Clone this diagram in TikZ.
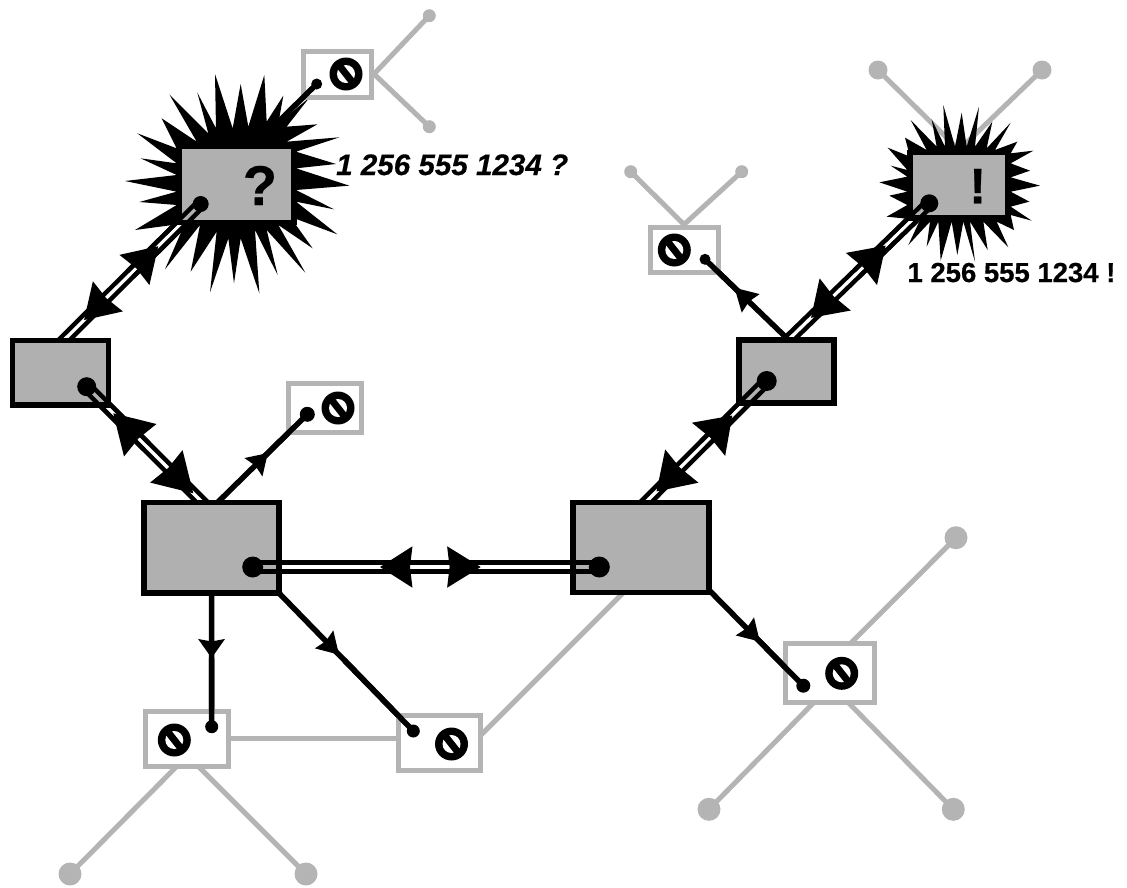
\documentclass[tikz,border=0pt]{standalone}
\usepackage{fontspec}
\setmainfont{Liberation Sans}
\newfontfamily\heavy[FakeBold=0.5]{Liberation Sans Bold}
\newfontfamily\heavyit[FakeBold=0.4]{Liberation Sans Bold Italic}
\usetikzlibrary{calc,decorations.markings}
\definecolor{soft}{HTML}{B4B4B4}
\definecolor{boxfill}{HTML}{B0B0B0}
\pgfdeclarelayer{under}\pgfdeclarelayer{burst}\pgfdeclarelayer{gap}\pgfdeclarelayer{top}
\pgfsetlayers{under,burst,gap,main,top}
\tikzset{
  hub/.style={draw=black,fill=boxfill,line width=5.8pt,rectangle,inner sep=0pt,minimum width=#1},
  client/.style={draw=soft,fill=white,line width=5pt,rectangle,inner sep=0pt,minimum width=#1},
  softline/.style={draw=soft,line width=5pt},
  softdot/.style={circle,fill=soft,inner sep=0pt,minimum size=#1},
  blackdot/.style={circle,fill=black,inner sep=0pt,minimum size=#1},
  wire/.style={draw=black,line width=5.5pt},
  nosign/.style={circle,fill=black,inner sep=0pt,minimum size=33pt},
}
\newcommand{\nosym}[2]{%
  \node[nosign] (#1) at (#2) {};
  \fill[white] (#1) circle (9);
  \draw[black,line width=7pt] ($(#1)+(-7.5,-9.5)$) -- ($(#1)+(7.5,9.5)$);
}
% arrowhead: path from, path to, distance of the tip from the start, length, width
\newcommand{\headon}[5]{%
  \path[decorate,decoration={markings,mark=at position #3pt with {%
    \fill[black] (0,0) -- (-1.12*#4,0.56*#5) -- (-1.12*#4+2.5,0) -- (-1.12*#4,-0.56*#5) -- cycle;}}]
    (#1.center) -- (#2.center);
}
% single line: inner end under the box, dot
\newcommand{\snl}[2]{%
  \begin{pgfonlayer}{gap}
    \draw[wire] (#1) -- (#2.center);
  \end{pgfonlayer}
  \begin{pgfonlayer}{top}
    \draw[wire] ($(#1)!0.5!(#2.center)$) -- (#2.center);
  \end{pgfonlayer}
}
% double line: dot, far end, half distance, line width
\newcommand{\dbl}[4]{%
  \begin{pgfonlayer}{gap}
    \draw[white,line width=2*#3 pt] (#1.center) -- (#2.center);
    \draw[wire,line width=#4pt] ($(#1.center)!#3pt!90:(#2.center)$) -- ($(#2.center)!#3pt!-90:(#1.center)$);
    \draw[wire,line width=#4pt] ($(#1.center)!#3pt!-90:(#2.center)$) -- ($(#2.center)!#3pt!90:(#1.center)$);
  \end{pgfonlayer}
  \begin{pgfonlayer}{top}
    \coordinate (mm) at ($(#1.center)!0.5!(#2.center)$);
    \draw[wire,line width=#4pt] ($(#1.center)!#3pt!90:(#2.center)$) -- ($(mm)!#3pt!-90:(#1.center)$);
    \draw[wire,line width=#4pt] ($(#1.center)!#3pt!-90:(#2.center)$) -- ($(mm)!#3pt!90:(#1.center)$);
  \end{pgfonlayer}
}
\begin{document}
\begin{tikzpicture}[x=1pt,y=-1pt]
\useasboundingbox (0,0) rectangle (1127,887);
% hubs
\node[hub=115pt,minimum height=76pt] (burstL) at (236.5,184.5) {};
\node[hub=98pt,minimum height=65.5pt] (burstR) at (959,185.2) {};
\node[hub=96pt,minimum height=64.5pt] (boxA) at (60.5,372.7) {};
\node[hub=135pt,minimum height=90.5pt] (mainL) at (211.5,547.7) {};
\node[hub=136pt,minimum height=90pt] (mainR) at (641,547.5) {};
\node[hub=95pt,minimum height=63.7pt] (boxB) at (786.5,371.5) {};
% clients
\node[client=68pt,minimum height=46pt] (c1) at (337.5,74) {};
\node[client=72.5pt,minimum height=48.5pt] (c2) at (324.8,407.8) {};
\node[client=68pt,minimum height=45pt] (c3) at (684,249.5) {};
\node[client=83pt,minimum height=55pt] (c4) at (186.5,738.5) {};
\node[client=82pt,minimum height=55pt] (c5) at (439,742.5) {};
\node[client=88.7pt,minimum height=59.3pt] (c6) at (830.3,673.3) {};
% signs
\nosym{s1}{346,74}
\nosym{s2}{338,408}
\nosym{s3}{674.3,250}
\nosym{s4}{174.3,740}
\nosym{s5}{451.5,744}
\nosym{s6}{841.7,673.3}
% free ends of the soft lines
\node[softdot=13pt] (a1) at (429.3,15.7) {};
\node[softdot=13pt] (a2) at (429.3,126.7) {};
\node[softdot=19pt] (a3) at (878,70) {};
\node[softdot=19pt] (a4) at (1042,70) {};
\node[softdot=13pt] (a5) at (630.7,171.7) {};
\node[softdot=13pt] (a6) at (741.7,171.7) {};
\node[softdot=23pt] (a7) at (70,874) {};
\node[softdot=23pt] (a8) at (306,874) {};
\node[softdot=23pt] (a9) at (956,537.7) {};
\node[softdot=23pt] (a10) at (709,809.3) {};
\node[softdot=23pt] (a11) at (953.3,809.3) {};
\coordinate (j4) at (187.5,755.5);
\coordinate (j6t) at (830,664);
\coordinate (j6b) at (831,685);
\coordinate (j5) at (478,738);
\coordinate (jR) at (625,591);
\coordinate (jB) at (959,150);
\begin{pgfonlayer}{under}
  \draw[softline] (a1.center) -- (c1.east) -- (a2.center);
  \draw[softline] (a3.center) -- (jB) -- (a4.center);
  \draw[softline] (a5.center) -- (c3.north) -- (a6.center);
  \draw[softline] (a7.center) -- (j4) -- (a8.center);
  \draw[softline] (a9.center) -- (j6t);
  \draw[softline] (a10.center) -- (j6b) -- (a11.center);
  \draw[softline] (c4.east) -- (c4.east -| c5.west);
  \draw[softline] (j5) -- (jR);
\end{pgfonlayer}
% bursts
\begin{pgfonlayer}{burst}
\begin{scope}[shift={(110,0)},x=0.33333pt,y=-0.33333pt]
\fill[black] (315,222) -- (368,385) -- (392,252) -- (415,380) -- (463,225) -- (470,365) -- (520,287) -- (505,370) -- (598,293) -- (530,380)
 -- (622,373) -- (530,425) -- (688,412) -- (558,455) -- (678,492) -- (558,505) -- (718,557) -- (558,570) -- (672,628) -- (558,605)
 -- (682,703) -- (540,650) -- (608,745) -- (505,675) -- (586,818) -- (470,690) -- (503,825) -- (435,690) -- (448,880) -- (392,715)
 -- (372,850) -- (355,715) -- (300,877) -- (320,695) -- (242,815) -- (270,675) -- (165,808) -- (225,670) -- (75,690) -- (200,615)
 -- (88,606) -- (200,575) -- (45,543) -- (200,525) -- (92,475) -- (200,490) -- (82,400) -- (200,445) -- (155,355) -- (260,425)
 -- (178,283) -- (295,400) -- (262,278) -- (318,385) -- cycle;
\end{scope}
\begin{scope}[shift={(620,50)},x=0.33333pt,y=-0.33333pt]
\fill[black] (970,165) -- (1005,290) -- (1025,188) -- (1040,290) -- (1077,170) -- (1065,290) -- (1117,215) -- (1100,295) -- (1172,218) -- (1125,300)
 -- (1192,275) -- (1172,310) -- (1240,302) -- (1172,340) -- (1230,362) -- (1172,382) -- (1260,407) -- (1172,425) -- (1228,455) -- (1172,470)
 -- (1235,512) -- (1172,495) -- (1182,540) -- (1130,515) -- (1165,592) -- (1090,515) -- (1103,600) -- (1050,515) -- (1065,635) -- (1030,515)
 -- (1012,615) -- (995,515) -- (962,632) -- (955,515) -- (920,590) -- (930,515) -- (865,585) -- (900,510) -- (800,500) -- (862,465)
 -- (808,437) -- (862,425) -- (778,397) -- (862,380) -- (812,347) -- (862,360) -- (803,293) -- (870,320) -- (855,263) -- (920,300)
 -- (872,210) -- (950,290) -- (935,208) -- (975,290) -- cycle;
\end{scope}
\end{pgfonlayer}
% end points of the dark connectors, inside the boxes
\coordinate (e1) at (60,344);
\coordinate (e2) at (206,506);
\coordinate (e3) at (785,343);
\coordinate (e4) at (641,507);
\coordinate (ea) at (217,503);
\coordinate (eb) at (788.7,340);
\coordinate (ec) at (211.5,590);
\coordinate (ed) at (276,590);
\coordinate (ee) at (707,588);
\coordinate (ef) at (272,128);
\begin{pgfonlayer}{top}
\node[blackdot=16pt] (d1) at (200.7,204) {};
\node[blackdot=18pt] (d2) at (929.3,203.3) {};
\node[blackdot=19pt] (d3) at (86.7,386.7) {};
\node[blackdot=21pt] (d4) at (252.7,567) {};
\node[blackdot=21pt] (d5) at (599.3,567) {};
\node[blackdot=20pt] (d6) at (766.7,381) {};
\node[blackdot=15pt] (t2) at (307.3,414.3) {};
\node[blackdot=11pt] (t1) at (316.7,84) {};
\node[blackdot=11pt] (t3) at (705,259.3) {};
\node[blackdot=13pt] (t4) at (211.7,726.7) {};
\node[blackdot=13pt] (t5) at (413.3,731) {};
\node[blackdot=14pt] (t6) at (803.3,685.7) {};
\draw[wire] (ef) -- (t1.center);
\headon{ea}{t2}{71.2}{18}{23}
\headon{eb}{t3}{75.2}{20}{23}
\headon{ec}{t4}{68}{17}{24}
\headon{ed}{t5}{90.2}{19}{23}
\headon{ee}{t6}{75.2}{19}{23}
\headon{e1}{d1}{138.6}{30}{38}
\headon{d1}{e1}{164.5}{30}{38}
\headon{e2}{d3}{131.1}{34}{41}
\headon{d3}{e2}{150.7}{34}{41}
\headon{e3}{d2}{140}{30}{40}
\headon{d2}{e3}{164.6}{30}{40}
\headon{e4}{d6}{129.2}{30}{42}
\headon{d6}{e4}{156}{32}{42}
\headon{d5}{d4}{219.3}{29}{37}
\headon{d4}{d5}{228}{30}{37}
\node[anchor=base,font=\fontsize{56}{60}\selectfont\heavy] (qm) at (260,205) {?};
\node[anchor=base,font=\fontsize{50}{54}\selectfont\heavy] (em) at (977.7,203.3) {!};
\node[anchor=base west,inner sep=0pt,font=\fontsize{29.6}{32}\selectfont\heavyit] (lq) at (336,175) {1 256 555 1234 ?};
\node[anchor=base west,inner sep=0pt,font=\fontsize{27.5}{30}\selectfont\heavy] (le) at (907.3,282) {1 256 555 1234 !};
\end{pgfonlayer}
\snl{ea}{t2}
\snl{eb}{t3}
\snl{ec}{t4}
\snl{ed}{t5}
\snl{ee}{t6}
\dbl{d1}{e1}{4}{4.4}
\dbl{d3}{e2}{4}{4.4}
\dbl{d2}{e3}{4}{4.4}
\dbl{d6}{e4}{4}{4.4}
\dbl{d4}{d5}{4.4}{5.2}
\dbl{d5}{d4}{4.4}{5.2}
\end{tikzpicture}
\end{document}
